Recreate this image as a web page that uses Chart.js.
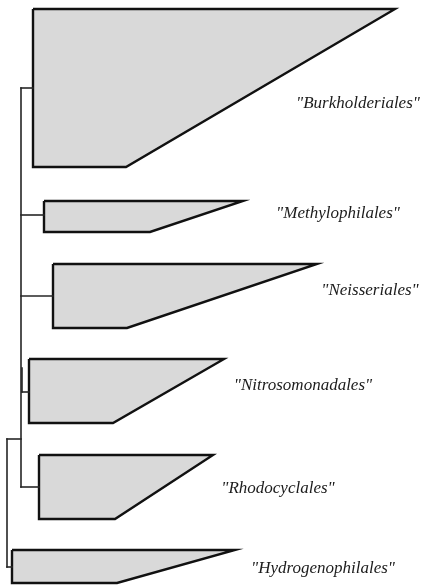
<!DOCTYPE html>
<html>
<head>
<meta charset="utf-8">
<script src="https://cdn.jsdelivr.net/npm/chart.js@4/dist/chart.umd.min.js"></script>
<style>
  html, body { margin: 0; padding: 0; background: #fff; overflow: hidden; }
  #wrap { width: 429px; height: 586px; position: relative; }
</style>
</head>
<body>
<div id="wrap"><canvas id="tree"></canvas></div>
<script>
// Collapsed clades of the tree (order names), top to bottom
const clades = ['"Burkholderiales"', '"Methylophilales"', '"Neisseriales"',
                '"Nitrosomonadales"', '"Rhodocyclales"', '"Hydrogenophilales"'];
// depth at which each clade starts (its ancestral node)
const cladeStartDepth = [33, 44, 53, 29, 39, 12];
// depth reached by the longest and shortest member of each clade
const cladeMaxDepth = [395, 243, 317, 224, 213, 235];
const cladeMinDepth = [126, 150, 127, 113, 115, 117];
// vertical extent of each collapsed clade and where its branch attaches
const cladeTop = [9, 201, 264, 359, 455, 550];
const cladeBottom = [167, 232, 328, 423, 519, 583];
const cladeBranchAt = [88, 215, 296, 392, 487, 567];
// depth of the parent node each clade hangs from
const cladeParentDepth = [21, 21, 21, 22, 21, 7];

// internal nodes: depth and vertical span
const nodeDepth = [21, 22, 7];
const nodeSpanTop = [88, 368, 439];
const nodeSpanBottom = [487, 392, 567];
// the inner node joins the root at this height
const innerJoinAt = 439;

// label anchor (centre) for each clade name
const labelCenterX = [358, 338, 370, 303, 278, 323];
const labelCenterY = [104, 214, 291, 386, 489, 569];

const FILL = '#d9d9d9';
const EDGE = '#111111';
const TREE = '#262626';

const datasets = [];

// tree edges
function edge(x1, y1, x2, y2) {
  datasets.push({
    type: 'line',
    data: [{ x: x1, y: y1 }, { x: x2, y: y2 }],
    borderColor: TREE,
    borderWidth: 1.6,
    pointRadius: 0,
    fill: false,
    tension: 0,
    borderCapStyle: 'square'
  });
}
nodeDepth.forEach((d, i) => edge(d, nodeSpanTop[i], d, nodeSpanBottom[i]));
edge(nodeDepth[2], innerJoinAt, nodeDepth[0], innerJoinAt);
clades.forEach((_, i) => edge(cladeParentDepth[i], cladeBranchAt[i], cladeStartDepth[i], cladeBranchAt[i]));

// collapsed clade polygons
clades.forEach((name, i) => {
  datasets.push({
    type: 'line',
    label: name,
    data: [
      { x: cladeStartDepth[i], y: cladeTop[i] },
      { x: cladeMaxDepth[i], y: cladeTop[i] },
      { x: cladeMinDepth[i], y: cladeBottom[i] },
      { x: cladeStartDepth[i], y: cladeBottom[i] },
      { x: cladeStartDepth[i], y: cladeTop[i] }
    ],
    borderColor: EDGE,
    backgroundColor: FILL,
    borderWidth: 2.4,
    borderJoinStyle: 'miter',
    pointRadius: 0,
    tension: 0,
    fill: 'shape'
  });
});

// clade names beside each polygon
const cladeLabels = {
  id: 'cladeLabels',
  afterDatasetsDraw(chart) {
    const { ctx, scales } = chart;
    ctx.save();
    ctx.font = 'italic 17px "Liberation Serif", "Times New Roman", serif';
    ctx.fillStyle = '#1c1c1c';
    ctx.textAlign = 'center';
    ctx.textBaseline = 'middle';
    clades.forEach((name, i) => {
      ctx.fillText(name, scales.x.getPixelForValue(labelCenterX[i]),
                   scales.y.getPixelForValue(labelCenterY[i]));
    });
    ctx.restore();
  }
};

new Chart(document.getElementById('tree'), {
  type: 'scatter',
  data: { datasets },
  options: {
    responsive: true,
    maintainAspectRatio: false,
    animation: false,
    layout: { padding: 0 },
    showLine: true,
    scales: {
      x: { type: 'linear', min: 0, max: 429, display: false },
      y: { type: 'linear', min: 0, max: 586, reverse: true, display: false }
    },
    plugins: { legend: { display: false }, tooltip: { enabled: false } }
  },
  plugins: [cladeLabels]
});
</script>
</body>
</html>
